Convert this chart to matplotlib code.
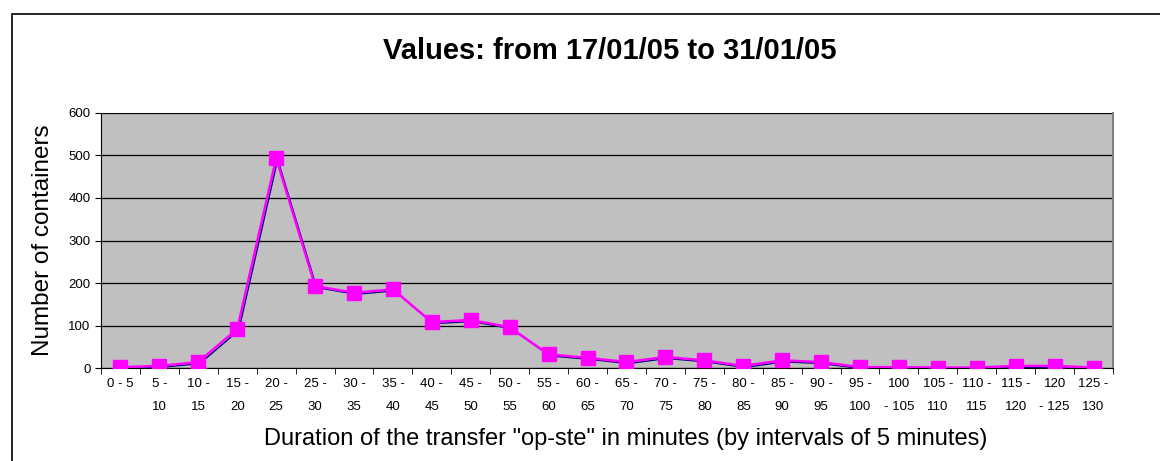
import numpy as np
import matplotlib.pyplot as plt
import matplotlib.transforms as mtransforms
from matplotlib.patches import Rectangle

plt.rcParams['font.family'] = ['Liberation Sans', 'DejaVu Sans']

# categories (intervals of 5 minutes)
labels = ["0 - 5", "5 -\n10", "10 -\n15", "15 -\n20", "20 -\n25", "25 -\n30",
          "30 -\n35", "35 -\n40", "40 -\n45", "45 -\n50", "50 -\n55", "55 -\n60",
          "60 -\n65", "65 -\n70", "70 -\n75", "75 -\n80", "80 -\n85", "85 -\n90",
          "90 -\n95", "95 -\n100", "100\n- 105", "105 -\n110", "110 -\n115",
          "115 -\n120", "120\n- 125", "125 -\n130"]
containers = [2, 5, 14, 92, 494, 193, 177, 185, 108, 113, 96, 32, 24, 14,
              26, 18, 5, 18, 14, 2, 2, 1, 1, 5, 5, 1]

fig = plt.figure(figsize=(11.6, 4.61), dpi=100)
ax = fig.add_axes([0.0871, 0.2017, 0.8724, 0.5532])

x = np.arange(len(labels))

# dark shadow series behind
shift = mtransforms.offset_copy(ax.transData, fig=fig, x=1.5, y=-1.5, units='dots')
ax.plot(x, containers, color='#000080', lw=1.0, marker='D', markersize=3,
        transform=shift, zorder=3)
ax.plot(x, containers, color='#FF00FF', lw=1.8, marker='s', markersize=10,
        zorder=4)

ax.set_facecolor('#C0C0C0')
ax.set_xlim(-0.5, len(labels) - 0.5)
ax.set_ylim(0, 600)
ax.set_yticks(range(0, 601, 100))
ax.yaxis.grid(True, color='black', lw=0.9)
ax.set_axisbelow(True)

ax.set_xticks(x)
ax.set_xticklabels(labels, fontsize=9.5, linespacing=2.25)
ax.tick_params(axis='x', which='major', length=0, pad=7)
ax.set_xticks(np.arange(-0.5, len(labels)), minor=True)
ax.tick_params(axis='x', which='minor', length=4, direction='out')
ax.tick_params(axis='y', labelsize=9.5, length=4)

ax.spines['top'].set_visible(False)
ax.spines['right'].set_color('#808080')
ax.spines['right'].set_linewidth(1.5)
ax.spines['left'].set_color('black')
ax.spines['bottom'].set_color('black')

ax.set_ylabel("Number of containers", fontsize=17.5, labelpad=10)
ax.set_xlabel('Duration of the transfer "op-ste" in minutes (by intervals of 5 minutes)',
              fontsize=17)
ax.xaxis.set_label_coords(0.518, -0.235)
fig.text(0.5255, 0.89, "Values: from 17/01/05 to 31/01/05", fontsize=21,
         fontweight='bold', ha='center', va='center')

# outer chart frame
fig.patches.append(Rectangle((12 / 1160, -0.1), 1.2, 1.1 - 14 / 461,
                             transform=fig.transFigure, fill=False,
                             edgecolor='black', lw=1.2))

fig.savefig("out.png", dpi=100)
